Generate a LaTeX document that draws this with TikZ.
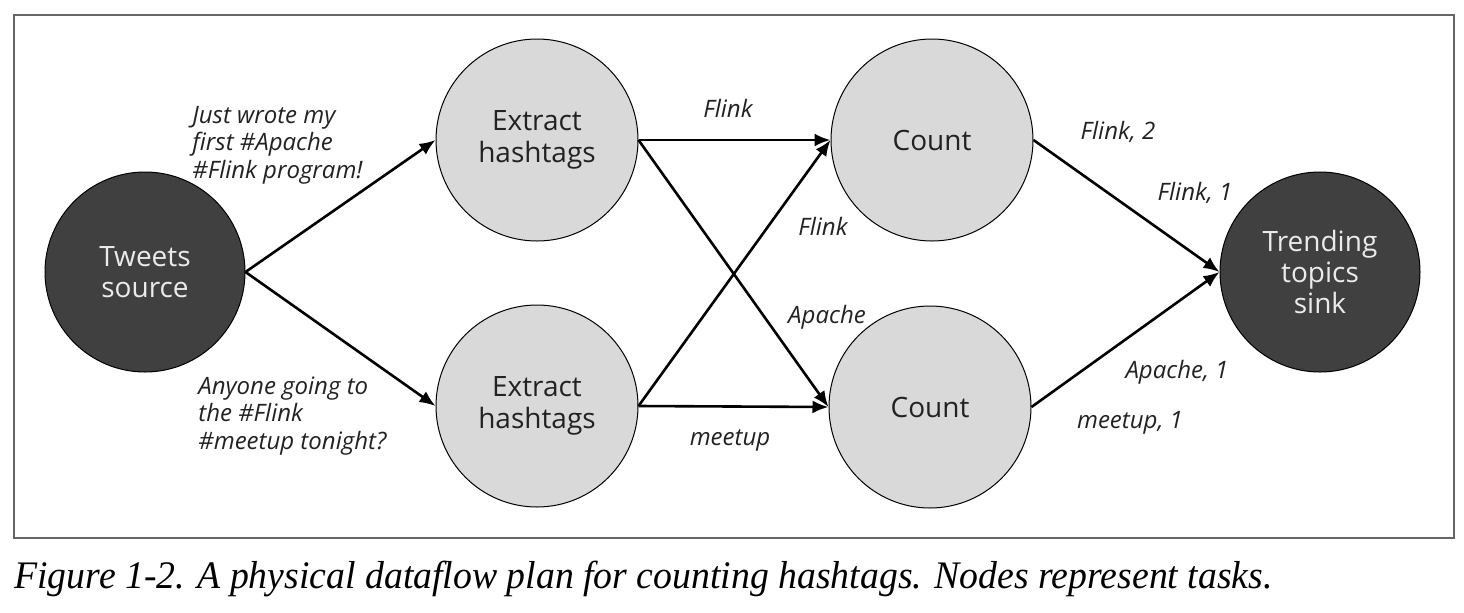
\documentclass[tikz,border=0pt]{standalone}
\usepackage{fontspec}
\usepackage{graphicx}
\setmainfont{Open Sans}
\newfontfamily\capfont{Liberation Serif}
\usetikzlibrary{arrows.meta}
\definecolor{lightfill}{HTML}{D9D9D9}
\definecolor{darkfill}{HTML}{404040}
\definecolor{framecol}{HTML}{666666}
\definecolor{txt}{HTML}{222222}
\begin{document}
\begin{tikzpicture}[x=0.5pt,y=-0.5pt,
  task/.style={circle, draw=black, line width=0.5pt, fill=lightfill, minimum size=101pt, inner sep=0pt,
    align=center, font=\fontsize{14}{16}\selectfont, text=txt},
  endpoint/.style={circle, draw=black, line width=0.5pt, fill=darkfill, minimum size=100pt, inner sep=0pt,
    align=center, font=\fontsize{14}{15.5}\selectfont, text=white!92!black},
  flow/.style={line width=1.3pt, -{Latex[length=8pt,width=6.5pt]}},
  lbl/.style={font=\fontsize{12}{13.8}\selectfont\itshape, text=txt, inner sep=0pt}
]
\useasboundingbox (0,0) rectangle (1464,612);
\draw[framecol, line width=0.8pt] (14,15) rectangle (1454,538);

\node[endpoint] (src) at (145,272) {Tweets\\source};
\node[task] (ex1) at (537,140) {Extract\\hashtags};
\node[task] (ex2) at (537,406) {Extract\\hashtags};
\node[task] (c1) at (932,140) {Count};
\node[task] (c2) at (930,407) {Count};
\node[endpoint] (snk) at (1320,272) {Trending\\topics\\sink};

\draw[flow] (src.east) -- (ex1.west);
\draw[flow] (src.east) -- (ex2.west);
\draw[flow] (ex1.east) -- (c1.west);
\draw[flow] (ex1.east) -- (c2.west);
\draw[flow] (ex2.east) -- (c1.west);
\draw[flow] (ex2.east) -- (c2.west);
\draw[flow] (c1.east) -- (snk.west);
\draw[flow] (c2.east) -- (snk.west);

\node[lbl, anchor=west, align=left] (t1) at (192,145) {Just wrote my\\first \#Apache\\\#Flink program!};
\node[lbl, anchor=west, align=left] (t2) at (198,416) {Anyone going to\\the \#Flink\\\#meetup tonight?};
\node[lbl] (l1) at (728,108) {Flink};
\node[lbl] (l2) at (823,226) {Flink};
\node[lbl] (l3) at (827,317) {Apache};
\node[lbl] (l4) at (730,440) {meetup};
\node[lbl] (l5) at (1118,132) {Flink, 2};
\node[lbl] (l6) at (1195,193) {Flink, 1};
\node[lbl] (l7) at (1177,372) {Apache, 1};
\node[lbl] (l8) at (1130,423) {meetup, 1};

\node[anchor=base west, inner sep=0pt, font=\capfont\fontsize{19.5}{22}\selectfont\itshape] (cap) at (14,588)
  {\scalebox{0.968}[1]{Figure 1-2. A physical dataflow plan for counting hashtags. Nodes represent tasks.}};
\end{tikzpicture}
\end{document}
